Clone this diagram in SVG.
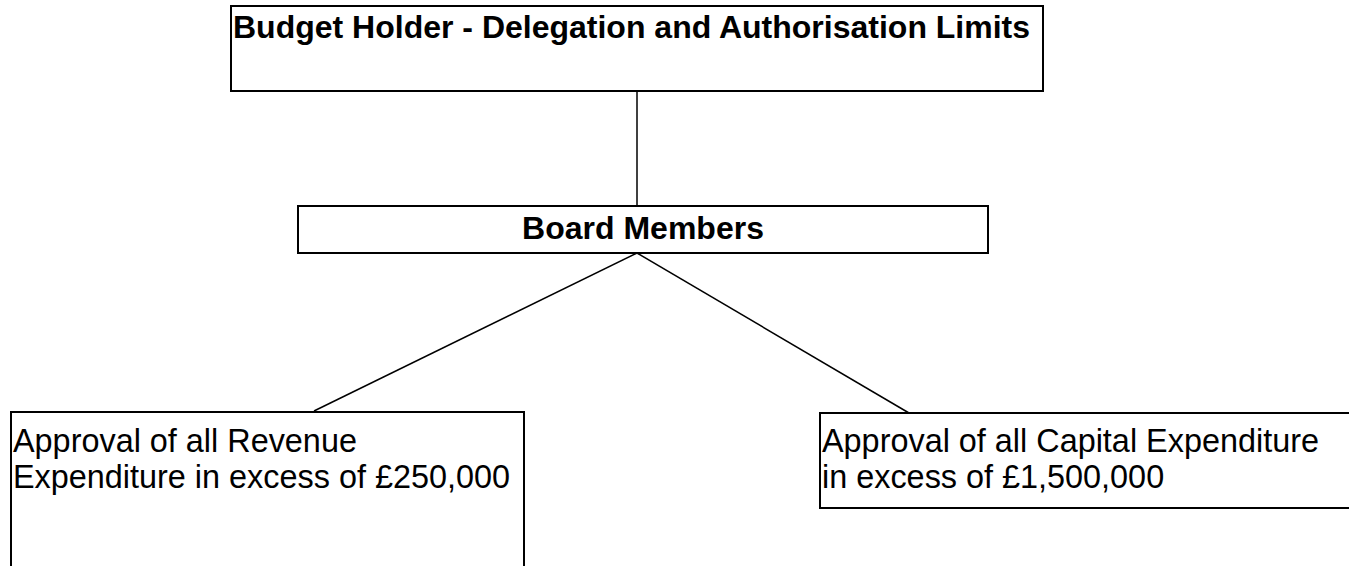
<svg xmlns="http://www.w3.org/2000/svg" width="1349" height="566" viewBox="0 0 1349 566">
<style>
.box{fill:#fff;stroke:#000;stroke-width:2}
.conn{stroke:#000;stroke-width:1.5;fill:none}
.b{font-family:"Liberation Sans",Arial,sans-serif;font-weight:bold;font-size:32px;fill:#000}
.r{font-family:"Liberation Sans",Arial,sans-serif;font-size:32.4px;fill:#000}
</style>
<rect width="1349" height="566" fill="#fff"/>
<g id="connectors">
<line class="conn" x1="637" y1="91" x2="637" y2="206"/>
<line class="conn" x1="637" y1="253" x2="314" y2="411"/>
<line class="conn" x1="637" y1="253" x2="909" y2="413"/>
</g>
<g id="node-top">
<rect class="box" x="231" y="6" width="812" height="85"/>
<text class="b" x="233" y="38">Budget Holder - Delegation and Authorisation Limits</text>
</g>
<g id="node-board">
<rect class="box" x="298" y="206" width="690" height="47"/>
<text class="b" x="643" y="239" text-anchor="middle">Board Members</text>
</g>
<g id="node-revenue">
<rect class="box" x="11" y="412" width="513" height="160"/>
<text class="r" x="13" y="452">Approval of all Revenue</text>
<text class="r" x="13" y="488">Expenditure in excess of £250,000</text>
</g>
<g id="node-capital">
<rect class="box" x="820" y="413" width="535" height="95"/>
<text class="r" x="822" y="452">Approval of all Capital Expenditure</text>
<text class="r" x="822" y="488">in excess of £1,500,000</text>
</g>
</svg>
